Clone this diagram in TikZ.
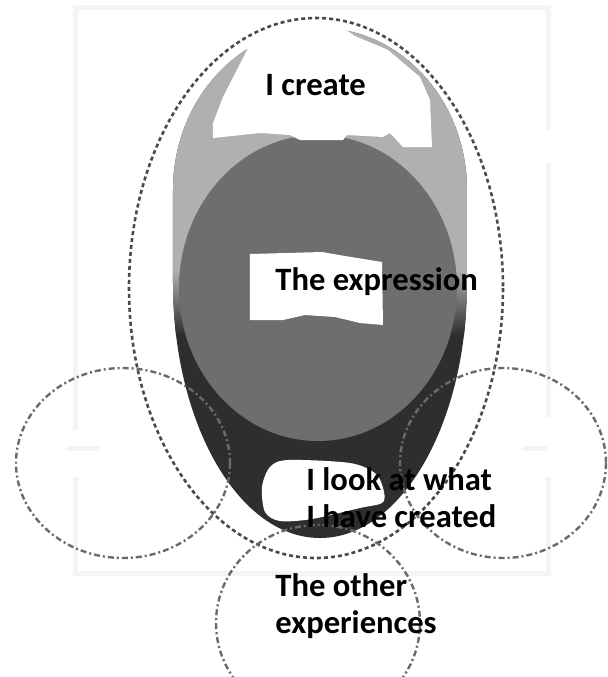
\documentclass[tikz,border=0pt]{standalone}
\usepackage{fontspec}
\setmainfont{Carlito}
\usetikzlibrary{positioning}
\definecolor{egglight}{HTML}{B0B0B0}
\definecolor{eggmid}{HTML}{6E6E6E}
\definecolor{eggdark}{HTML}{2E2E2E}
\definecolor{ringgray}{HTML}{6A6A6A}
\definecolor{bigringgray}{HTML}{4A4A4A}
\definecolor{framegray}{HTML}{F4F4F4}

\begin{document}
\begin{tikzpicture}[
  x=0.5pt, y=-0.5pt,
  lbl/.style={
    font=\fontsize{16.3}{18.5}\selectfont\bfseries,
    anchor=base west, align=left, inner sep=0pt
  },
  ring/.style={draw=ringgray, line width=1.2pt,
    dash pattern=on 3pt off 1.5pt on 1pt off 1.5pt},
  bigring/.style={draw=bigringgray, line width=1.3pt,
    dash pattern=on 2pt off 1.5pt},
  frame/.style={draw=framegray, line width=2.5pt}
]
  \useasboundingbox (0,0) rectangle (608,677);
  \clip (0,0) rectangle (608,677);

  % faint frame behind
  \draw[frame] (76,430) -- (76,7) -- (549,7) -- (549,130);
  \draw[frame] (549,163) -- (549,417);
  \draw[frame] (549,477) -- (549,573) -- (76,573) -- (76,477);
  \draw[frame] (67,448) -- (100,448);
  \draw[frame] (523,448) -- (547,448);

  % the egg
  \begin{scope}
    \clip (173,283) -- (173,190)
      arc[start angle=180, end angle=360, x radius=147, y radius=162]
      -- (467,283)
      arc[start angle=0, end angle=180, x radius=147, y radius=255] -- cycle;
    \fill[eggdark] (160,20) rectangle (480,545);
    \shade[top color=egglight, bottom color=eggdark] (160,270) rectangle (480,335);
    \fill[egglight] (160,20) rectangle (480,270);
  \end{scope}
  \fill[eggmid] (318,288) ellipse [x radius=139, y radius=153];

  % white patches under the labels
  \fill[white] (213,138) -- (213,123) -- (223,97) -- (243,58) -- (255,34)
    -- (300,20) -- (337,24) -- (355,36) -- (388,50) -- (420,77) -- (430,100)
    -- (432,147) -- (403,147) -- (390,133) -- (383,137) -- (347,135)
    -- (343,140) -- (300,140) -- (290,135) -- (260,133) -- cycle;
  \fill[white] (250,254) -- (322,252) -- (345,256) -- (382,262) -- (383,325)
    -- (360,323) -- (335,317) -- (305,315) -- (283,320) -- (250,320) -- cycle;
  \fill[white] plot[smooth cycle] coordinates {(262,487) (270,467) (288,460)
    (350,463) (376,474) (384,492) (382,503) (360,508) (312,519) (280,521)
    (265,512)};

  % dashed rings
  \draw[bigring] (316,288) ellipse [x radius=187, y radius=270];
  \draw[ring] (123,463) ellipse [x radius=107, y radius=95];
  \draw[ring] (503,463) ellipse [x radius=103, y radius=95];
  \draw[ring] (318,623) ellipse [x radius=102, y radius=98];

  % labels
  \node[lbl] (create) at (265,95) {I create};
  \node[lbl] (expr) at (275,290) {The expression};
  \node[lbl] (look) at (306,527) {I look at what\\I have created};
  \node[lbl] (other) at (275,633) {The other\\experiences};
\end{tikzpicture}
\end{document}
